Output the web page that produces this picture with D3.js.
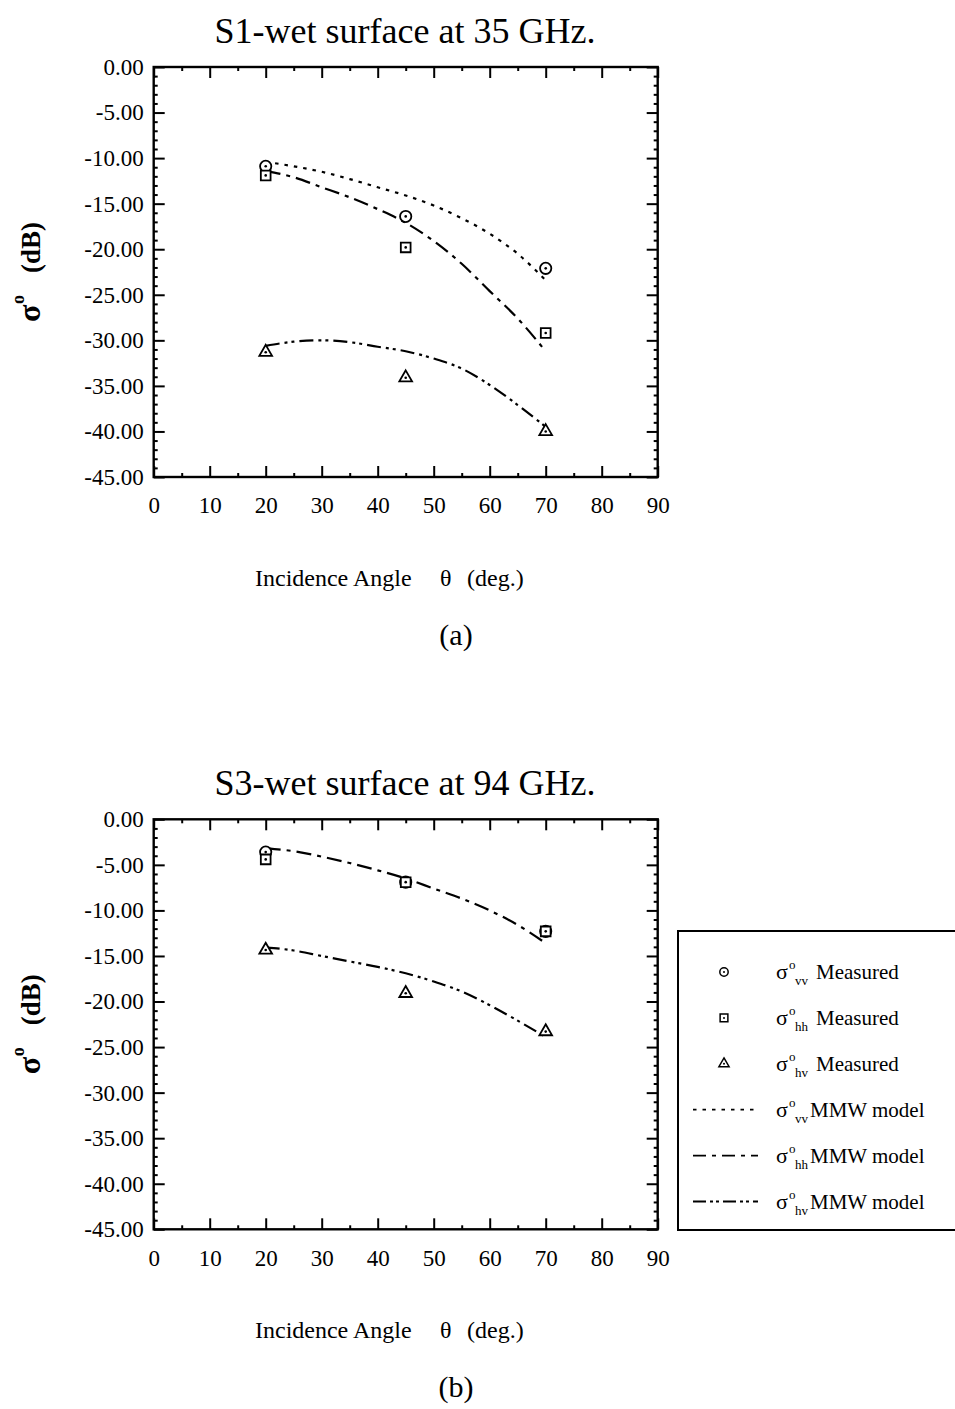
<!DOCTYPE html>
<html>
<head>
<meta charset="utf-8">
<script src="https://cdn.jsdelivr.net/npm/d3@7"></script>
<style>
  body { margin: 0; background: #fff; }
  text { font-family: "Liberation Serif", "Times New Roman", serif; fill: #000; }
</style>
</head>
<body>
<div id="chart"></div>
<script>
// Angles (deg.)
var measAngles = [20, 45, 70];
var modelAngles = [20, 25, 30, 35, 40, 45, 50, 55, 60, 65, 70];

// S1-wet surface, 35 GHz (dB)
var s1VV = [-10.9, -16.4, -22.1];
var s1HH = [-11.9, -19.8, -29.2];
var s1HV = [-31.3, -34.1, -40.0];
var s1VVModel = [-10.4, -10.9, -11.5, -12.3, -13.2, -14.1, -15.2, -16.6, -18.3, -20.5, -23.4];
var s1HHModel = [-11.4, -12.1, -13.2, -14.3, -15.6, -17.1, -19.1, -21.6, -24.6, -27.6, -31.2];
var s1HVModel = [-30.6, -30.15, -30.0, -30.2, -30.7, -31.2, -32.0, -33.1, -34.9, -37.1, -39.5];

// S3-wet surface, 94 GHz (dB)
var s3VV = [-3.6, -6.9, -12.3];
var s3HH = [-4.4, -6.9, -12.3];
var s3HV = [-14.35, -19.1, -23.3];
var s3HHModel = [-3.2, -3.5, -4.1, -4.8, -5.6, -6.5, -7.6, -8.7, -10.0, -11.6, -13.6];
var s3HVModel = [-14.05, -14.4, -15.0, -15.6, -16.2, -16.9, -17.8, -18.9, -20.4, -22.1, -23.9];

// Ticks
var xTicks = [0, 10, 20, 30, 40, 50, 60, 70, 80, 90];
var yTicks = [0, -5, -10, -15, -20, -25, -30, -35, -40, -45];

var legendKeys = ["vv", "hh", "hv", "vv", "hh", "hv"];
var legendNames = ["Measured", "Measured", "Measured", "MMW model", "MMW model", "MMW model"];

// line styles
var dashVV = "3.5,6", dashHH = "15,6,4,6", dashHV = "14,5,3,4,3,5";

var W = 955, H = 1409;
var pw = 504, ph = 410;

var svg = d3.select("#chart").append("svg")
    .attr("width", W)
    .attr("height", H);
svg.append("rect").attr("width", W).attr("height", H).attr("fill", "#fff");

var x = d3.scaleLinear().domain([0, 90]).range([0, pw]);
var y = d3.scaleLinear().domain([-45, 0]).range([ph, 0]);

var symCircle = d3.symbol().type(d3.symbolCircle).size(100);
var symSquare = d3.symbol().type(d3.symbolSquare).size(95);
var symTri = d3.symbol().type(d3.symbolTriangle).size(70);

var line = d3.line()
    .x(function(d) { return x(d[0]); })
    .y(function(d) { return y(d[1]); })
    .curve(d3.curveMonotoneX);

function drawPanel(top, title, label, meas, models) {
  var g = svg.append("g").attr("transform", "translate(153.7," + top + ")");

  // title
  svg.append("text")
      .attr("x", 405).attr("y", top - 24)
      .attr("text-anchor", "middle")
      .style("font-size", "36px")
      .text(title);

  // axes, ticks pointing inward
  var minorX = d3.range(5, 90, 10);
  var minorY = d3.range(-44, 0, 1).filter(function(v) { return v % 5 !== 0; });

  g.append("g").attr("transform", "translate(0," + ph + ")")
      .call(d3.axisBottom(x).tickValues(xTicks).tickSizeInner(-11).tickSizeOuter(0).tickPadding(20))
      .call(styleAxis);
  g.append("g").attr("transform", "translate(0," + ph + ")")
      .call(d3.axisBottom(x).tickValues(minorX).tickSize(-4).tickFormat(""))
      .call(styleAxis);
  g.append("g")
      .call(d3.axisTop(x).tickValues(xTicks).tickSize(-11).tickFormat(""))
      .call(styleAxis);
  g.append("g")
      .call(d3.axisTop(x).tickValues(minorX).tickSize(-4).tickFormat(""))
      .call(styleAxis);
  g.append("g")
      .call(d3.axisLeft(y).tickValues(yTicks).tickSizeInner(-11).tickSizeOuter(0).tickPadding(10)
        .tickFormat(function(d) { return d.toFixed(2); }))
      .call(styleAxis);
  g.append("g")
      .call(d3.axisLeft(y).tickValues(minorY).tickSize(-4).tickFormat(""))
      .call(styleAxis);
  g.append("g").attr("transform", "translate(" + pw + ",0)")
      .call(d3.axisRight(y).tickValues(yTicks).tickSize(-11).tickFormat(""))
      .call(styleAxis);
  g.append("g").attr("transform", "translate(" + pw + ",0)")
      .call(d3.axisRight(y).tickValues(minorY).tickSize(-4).tickFormat(""))
      .call(styleAxis);

  g.append("rect")
      .attr("width", pw).attr("height", ph)
      .attr("fill", "none").attr("stroke", "#000").attr("stroke-width", 2.4);

  // model curves
  models.forEach(function(m) {
    g.append("path")
        .datum(modelAngles.map(function(a, i) { return [a, m.values[i]]; }))
        .attr("d", line)
        .attr("fill", "none")
        .attr("stroke", "#000")
        .attr("stroke-width", 2.2)
        .attr("stroke-dasharray", m.dash);
  });

  // measured points
  meas.forEach(function(m) {
    var pts = g.selectAll(null)
        .data(measAngles.map(function(a, i) { return [a, m.values[i]]; }))
      .enter().append("g")
        .attr("transform", function(d) { return "translate(" + x(d[0]) + "," + y(d[1]) + ")"; });
    pts.append("path")
        .attr("d", m.sym)
        .attr("fill", "#fff").attr("stroke", "#000").attr("stroke-width", 1.8);
    pts.append("circle").attr("r", 1.3).attr("fill", "#000");
  });

  // axis titles
  var xt = svg.append("text")
      .attr("y", top + 519)
      .style("font-size", "24px");
  xt.append("tspan").attr("x", 255).text("Incidence Angle");
  xt.append("tspan").attr("x", 440).text("θ");
  xt.append("tspan").attr("x", 467).text("(deg.)");

  var cy = top + ph / 2;
  var yt = svg.append("g").attr("transform", "translate(40," + cy + ") rotate(-90)");
  yt.append("text").attr("x", -50).attr("y", 0)
      .style("font-size", "32px").style("font-weight", "bold").text("σ");
  yt.append("text").attr("x", -32).attr("y", -16)
      .style("font-size", "18px").style("font-weight", "bold").text("o");
  yt.append("text").attr("x", -1).attr("y", 0)
      .style("font-size", "27px").style("font-weight", "bold").text("(dB)");

  svg.append("text")
      .attr("x", 456).attr("y", top + 578)
      .attr("text-anchor", "middle")
      .style("font-size", "30px")
      .text(label);
}

function styleAxis(sel) {
  sel.select(".domain").remove();
  sel.selectAll("line").attr("stroke", "#000").attr("stroke-width", 2);
  sel.selectAll("text")
      .style("font-size", "23px")
      .style("font-family", "'Liberation Serif', serif");
}

drawPanel(67, "S1-wet surface at 35 GHz.", "(a)",
  [{values: s1VV, sym: symCircle()}, {values: s1HH, sym: symSquare()}, {values: s1HV, sym: symTri()}],
  [{values: s1VVModel, dash: dashVV}, {values: s1HHModel, dash: dashHH}, {values: s1HVModel, dash: dashHV}]);

drawPanel(819.3, "S3-wet surface at 94 GHz.", "(b)",
  [{values: s3VV, sym: symCircle()}, {values: s3HH, sym: symSquare()}, {values: s3HV, sym: symTri()}],
  [{values: s3HHModel, dash: dashHH}, {values: s3HVModel, dash: dashHV}]);

// legend
var lg = svg.append("g");
lg.append("rect")
    .attr("x", 678).attr("y", 931).attr("width", 290).attr("height", 299)
    .attr("fill", "#fff").attr("stroke", "#000").attr("stroke-width", 2);

var legSyms = [
  d3.symbol().type(d3.symbolCircle).size(55)(),
  d3.symbol().type(d3.symbolSquare).size(60)(),
  d3.symbol().type(d3.symbolTriangle).size(45)()
];
var legDash = [dashVV, "13,6,4,6", "13,4,3,3,3,4"];

legendKeys.forEach(function(k, i) {
  var ry = 972 + i * 45.9;
  if (i < 3) {
    var s = lg.append("g").attr("transform", "translate(724," + ry + ")");
    s.append("path").attr("d", legSyms[i])
        .attr("fill", "#fff").attr("stroke", "#000").attr("stroke-width", 1.5);
    s.append("circle").attr("r", 1).attr("fill", "#000");
  } else {
    lg.append("line")
        .attr("x1", 693).attr("x2", 758).attr("y1", ry).attr("y2", ry)
        .attr("stroke", "#000").attr("stroke-width", 1.8)
        .attr("stroke-dasharray", legDash[i - 3]);
  }
  lg.append("text").attr("x", 776).attr("y", ry + 7).style("font-size", "22px").text("σ");
  lg.append("text").attr("x", 789).attr("y", ry - 3).style("font-size", "13px").text("o");
  lg.append("text").attr("x", 795).attr("y", ry + 13).style("font-size", "13px").text(k);
  lg.append("text").attr("x", i < 3 ? 816 : 810).attr("y", ry + 7).style("font-size", "21px").text(legendNames[i]);
});
</script>
</body>
</html>
